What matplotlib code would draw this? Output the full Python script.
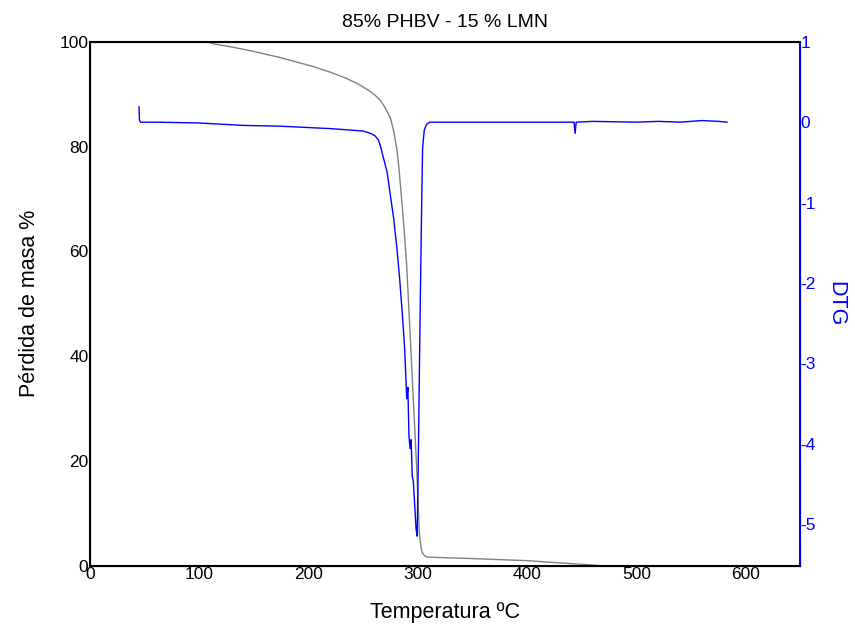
import numpy as np
import matplotlib
matplotlib.use("Agg")
import matplotlib.pyplot as plt

plt.rcParams['font.family'] = ['Liberation Sans', 'DejaVu Sans']

# masa (%) vs temperatura
temp_masa = [108, 113, 130, 149, 174, 204, 220, 235, 246, 256, 261, 265.6, 270, 275, 278, 281, 283, 285.4, 288,
             290, 293, 296, 299, 301.5, 303, 304, 306, 308, 320, 350, 400, 450, 470, 520, 581]
masa = [100, 99.6, 99.0, 98.2, 97.0, 95.3, 94.2, 93.0, 91.9, 90.6, 89.8, 88.9, 87.5, 85.5, 83.0, 79.4, 75.5,
        69.8, 63.0, 57.0, 44.5, 31.7, 19.0, 6.3, 3.6, 2.6, 2.0, 1.7, 1.6, 1.4, 1.0, 0.3, 0.0, 0.0, 0.0]

# DTG vs temperatura
temp_dtg = [45, 45.5, 46.5, 60, 100, 140, 174, 220, 250, 257, 261, 264, 266, 268, 272, 275, 278, 281, 283.5, 286,
            288, 290, 291, 292, 293, 294, 295, 296, 297, 298.5, 299.5, 300.5, 302, 303.7, 304.5, 306, 308, 311,
            350, 400, 443, 444, 445, 460, 500, 520, 540, 560, 575, 583]
dtg = [0.19, 0.02, 0.0, 0.0, -0.01, -0.04, -0.05, -0.08, -0.11, -0.14, -0.17, -0.22, -0.3, -0.41, -0.62, -0.91,
       -1.2, -1.57, -1.95, -2.4, -2.8, -3.44, -3.3, -3.9, -4.06, -3.95, -4.4, -4.47, -4.7, -5.06, -5.15, -4.27,
       -2.6, -0.95, -0.32, -0.1, -0.03, 0.0, 0.0, 0.0, 0.0, -0.14, 0.0, 0.01, 0.0, 0.01, 0.0, 0.02, 0.01, 0.0]

fig = plt.figure(figsize=(8.55, 6.33), dpi=100)
ax = fig.add_axes([0.105, 0.106, 0.831, 0.828])
ax.plot(temp_masa, masa, color='#808080', lw=1.0)
ax.set_xlim(0, 650)
ax.set_ylim(0, 100)
ax.set_xticks([0, 100, 200, 300, 400, 500, 600])
ax.set_yticks([0, 20, 40, 60, 80, 100])
ax.tick_params(length=0, pad=1, labelsize=12.5)
ax.set_xlabel('Temperatura ºC', fontsize=15.5, labelpad=14)
ax.set_ylabel('Pérdida de masa %', fontsize=15.5, labelpad=14)
ax.set_title('85% PHBV - 15 % LMN', fontsize=14, pad=11)
for s in ['left', 'bottom', 'top']:
    ax.spines[s].set_linewidth(1.5)

ax2 = ax.twinx()
ax2.plot(temp_dtg, dtg, color='#0000ff', lw=1.0)
ax2.set_ylim(-5.52, 1)
ax2.set_yticks([1, 0, -1, -2, -3, -4, -5])
ax2.set_yticklabels(['1', '0', '-1', '-2', '-3', '-4', '-5'])
ax2.tick_params(length=0, pad=0, labelsize=12.5, colors='#0000ff')
ax2.spines['right'].set_color('#0000ff')
ax2.spines['right'].set_linewidth(1.5)
ax2.set_ylabel('DTG', fontsize=15.5, color='#0000ff', rotation=270, labelpad=22)

fig.savefig('out.png', dpi=100)
